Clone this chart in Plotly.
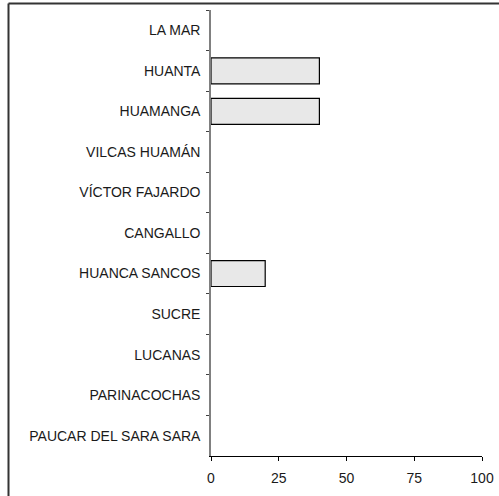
import plotly.graph_objects as go

categories = ["LA MAR", "HUANTA", "HUAMANGA", "VILCAS HUAMÁN", "VÍCTOR FAJARDO",
              "CANGALLO", "HUANCA SANCOS", "SUCRE", "LUCANAS", "PARINACOCHAS",
              "PAUCAR DEL SARA SARA"]
values = [0, 40, 40, 0, 0, 0, 20, 0, 0, 0, 0]
x_ticks = [0, 25, 50, 75, 100]

fig = go.Figure(go.Bar(
    x=values, y=categories, orientation="h",
    marker=dict(color="#e8e8e8",
                line=dict(color="#000000", width=[1.2 if v > 0 else 0 for v in values])),
))

W, H = 499, 496
L, R, T, B = 211, 17, 10, 40
pw, ph = W - L - R, H - T - B

def px_x(p):
    return (p - L) / pw

def px_y(p):
    return (H - B - p) / ph

fig.update_layout(
    width=W, height=H,
    margin=dict(l=L, r=R, t=T, b=B, pad=0, autoexpand=False),
    paper_bgcolor="white", plot_bgcolor="white",
    bargap=0.36,
    showlegend=False,
    font=dict(family="Liberation Sans, Arial, sans-serif", size=14, color="#1a1a1a"),
    xaxis=dict(
        range=[0, 100], tickvals=x_ticks, ticktext=[str(v) for v in x_ticks],
        showgrid=False, zeroline=False, showline=True, linecolor="#000000", linewidth=1,
        ticks="outside", ticklen=4, tickcolor="#000000", tickwidth=1,
        tickfont=dict(size=14), ticklabelstandoff=5, automargin=False,
    ),
    yaxis=dict(
        categoryorder="array", categoryarray=categories, autorange="reversed",
        showgrid=False, zeroline=False, showline=True, linecolor="#808080", linewidth=1.5,
        ticks="outside", ticklen=3, tickcolor="#404040", tickwidth=1, tickson="boundaries",
        tickfont=dict(size=14), ticklabelstandoff=6, automargin=False,
    ),
    shapes=[
        dict(type="line", xref="paper", yref="paper",
             x0=px_x(8.5), x1=px_x(520), y0=px_y(3.5), y1=px_y(3.5),
             line=dict(color="#333333", width=2)),
        dict(type="line", xref="paper", yref="paper",
             x0=px_x(8.5), x1=px_x(8.5), y0=px_y(520), y1=px_y(3.5),
             line=dict(color="#333333", width=2)),
    ],
)

fig.write_html("out.html", config={"displayModeBar": False},
               post_script="document.body.style.margin='0';document.body.style.overflow='hidden';")
